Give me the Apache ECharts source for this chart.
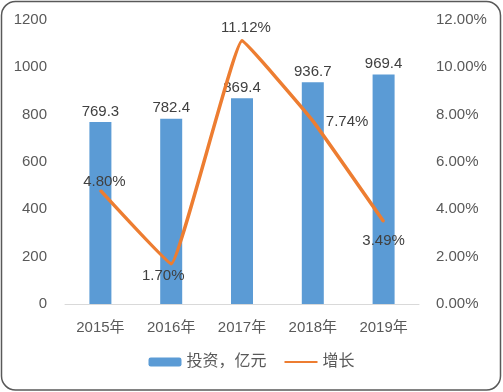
<!DOCTYPE html>
<html>
<head>
<meta charset="utf-8">
<script src="https://cdn.jsdelivr.net/npm/echarts@6/dist/echarts.min.js"></script>
<style>html,body{margin:0;padding:0;background:#fff}#c{width:503px;height:392px}</style>
</head>
<body>
<div id="c"></div>
<script>
const categories = ['2015年', '2016年', '2017年', '2018年', '2019年'];
const investment = [769.3, 782.4, 869.4, 936.7, 969.4];
const growth = [4.80, 1.70, 11.12, 7.74, 3.49];
const leftTicks = { min: 0, max: 1200, interval: 200 };
const rightTicks = { min: 0, max: 12, interval: 2 };

// label placement styles for the growth line (per point)
const growthLabelStyle = [
  { position: 'top', distance: 0, offset: [4, 0] },
  { position: 'bottom', distance: 4, offset: [-8, 0] },
  { position: 'top', distance: 4, offset: [4, 0] },
  { position: 'right', distance: 12, offset: [0, 1] },
  { position: 'bottom', distance: 11, offset: [0, 0] }
];

const FONT = "'Liberation Sans', 'Noto Sans CJK SC', sans-serif";
const chart = echarts.init(document.getElementById('c'), null, { renderer: 'canvas' });
chart.setOption({
  animation: false,
  textStyle: { fontFamily: FONT },
  graphic: [{
    type: 'rect',
    shape: { x: 1.5, y: 1.5, width: 499, height: 388.5, r: 14 },
    style: { fill: 'none', stroke: '#595959', lineWidth: 1.5 },
    silent: true
  }],
  grid: { left: 65, right: 84, top: 20, bottom: 88 },
  legend: {
    bottom: 17,
    left: 'center',
    itemWidth: 33,
    itemHeight: 9,
    itemGap: 17,
    textStyle: { fontSize: 16, color: '#595959', fontFamily: FONT },
    data: [
      { name: '投资，亿元' },
      { name: '增长', itemStyle: { opacity: 0 } }
    ]
  },
  xAxis: {
    type: 'category',
    data: categories,
    axisTick: { show: false },
    axisLine: { lineStyle: { color: '#D9D9D9', width: 1 } },
    axisLabel: { color: '#595959', fontSize: 15, margin: 16, fontFamily: FONT }
  },
  yAxis: [{
    type: 'value',
    min: leftTicks.min, max: leftTicks.max, interval: leftTicks.interval,
    splitLine: { show: false },
    axisLine: { show: false },
    axisTick: { show: false },
    axisLabel: { color: '#595959', fontSize: 15, margin: 18, fontFamily: FONT,
      formatter: v => String(v) }
  }, {
    type: 'value',
    min: rightTicks.min, max: rightTicks.max, interval: rightTicks.interval,
    splitLine: { show: false },
    axisLine: { show: false },
    axisTick: { show: false },
    axisLabel: {
      color: '#595959', fontSize: 15, margin: 17, fontFamily: FONT,
      formatter: v => v.toFixed(2) + '%'
    }
  }],
  series: [{
    name: '投资，亿元',
    type: 'bar',
    data: investment,
    barWidth: 22,
    itemStyle: { color: '#5B9BD5' },
    label: {
      show: true, position: 'top', distance: 3,
      color: '#404040', fontSize: 15, fontFamily: FONT,
      formatter: p => p.value.toFixed(1)
    }
  }, {
    name: '增长',
    type: 'line',
    yAxisIndex: 1,
    smooth: 0.08,
    symbol: 'circle',
    symbolSize: 2,
    itemStyle: { color: '#ED7D31' },
    lineStyle: { color: '#ED7D31', width: 3.5 },
    data: growth.map((v, i) => ({
      value: v,
      label: Object.assign({}, growthLabelStyle[i])
    })),
    label: {
      show: true,
      color: '#404040', fontSize: 15, fontFamily: FONT,
      formatter: p => p.value.toFixed(2) + '%'
    },
    z: 3
  }]
});
</script>
</body>
</html>
